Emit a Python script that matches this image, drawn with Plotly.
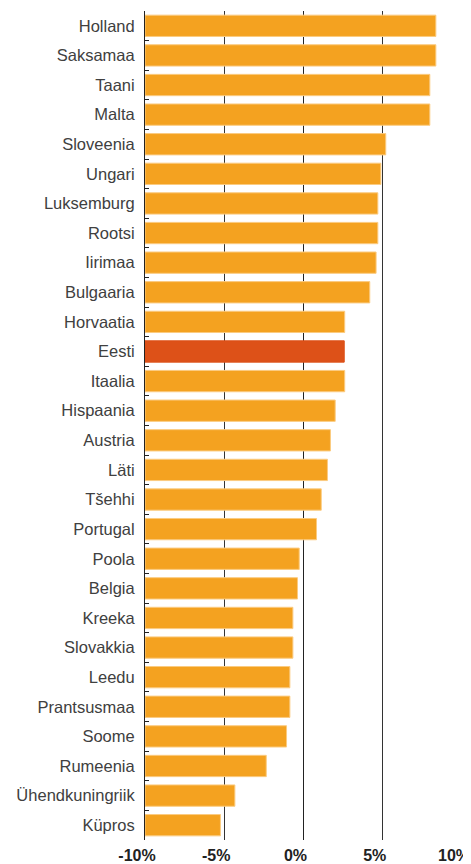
import plotly.graph_objects as go

countries = ["Holland", "Saksamaa", "Taani", "Malta", "Sloveenia", "Ungari", "Luksemburg",
             "Rootsi", "Iirimaa", "Bulgaaria", "Horvaatia", "Eesti", "Itaalia", "Hispaania",
             "Austria", "Läti", "Tšehhi", "Portugal", "Poola", "Belgia", "Kreeka", "Slovakkia",
             "Leedu", "Prantsusmaa", "Soome", "Rumeenia", "Ühendkuningriik", "Küpros"]
values = [8.35, 8.35, 7.97, 7.97, 5.19, 4.88, 4.69, 4.69, 4.58, 4.18, 2.6, 2.57, 2.6, 2.0,
          1.7, 1.51, 1.12, 0.82, -0.27, -0.38, -0.67, -0.67, -0.86, -0.86, -1.07, -2.35,
          -4.33, -5.24]
tick_vals = [-10, -5, 0, 5, 10]
tick_text = ["-10%", "-5%", "0%", "5%", "10%"]
axis_min = -10
highlight = "Eesti"

colors = ["#DD5118" if c == highlight else "#F4A220" for c in countries]
line_colors = ["#DD5118" if c == highlight else "#FBCB80" for c in countries]

fig = go.Figure(go.Bar(
    y=countries,
    x=[v - axis_min for v in values],
    base=axis_min,
    orientation="h",
    marker=dict(color=colors, line=dict(color=line_colors, width=1)),
    width=0.72,
))

# page body has an 8px default margin, so the figure is sized to fill the rest
fig.update_layout(
    width=463, height=856,
    margin=dict(l=137, r=9, t=3, b=24),
    paper_bgcolor="white", plot_bgcolor="white",
    showlegend=False,
    font=dict(family="Liberation Sans, Arial, sans-serif"),
    xaxis=dict(
        range=[-10, 10], tickvals=tick_vals, ticktext=tick_text,
        showgrid=True, gridcolor="#333", gridwidth=1,
        zeroline=True, zerolinecolor="#222", zerolinewidth=1,
        showline=False, ticks="",
        tickfont=dict(size=16, color="#222", family="Liberation Sans, Arial, sans-serif", weight="bold"),
        ticklabelshift=-8,
        ticklabelstandoff=4,
        automargin=False,
        fixedrange=True,
    ),
    yaxis=dict(
        autorange="reversed",
        showline=True, linecolor="#222", linewidth=1,
        ticks="inside", tickson="boundaries", ticklen=4, tickcolor="#222",
        tickfont=dict(size=16.5, color="#404040"),
        ticklabelstandoff=6,
        showgrid=False,
        automargin=False,
    ),
)

fig.write_html("out.html")
